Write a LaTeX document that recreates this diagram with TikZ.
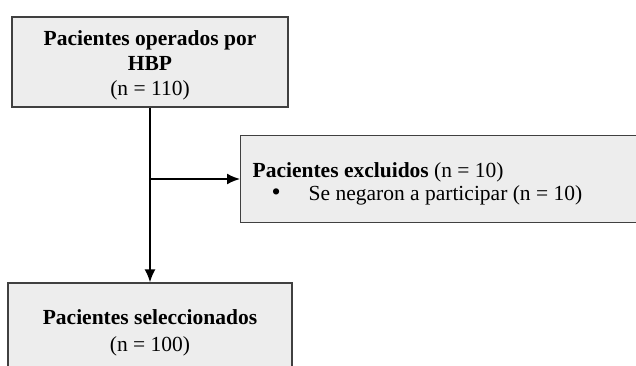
\documentclass[tikz,border=0pt]{standalone}
\usepackage{fontspec}
\setmainfont{Liberation Serif}
\usetikzlibrary{arrows.meta}
\begin{document}
\begin{tikzpicture}[x=1pt,y=1pt]
\definecolor{fillColor}{RGB}{237,237,237}
\definecolor{drawColor}{RGB}{64,64,64}
\tikzset{
  box/.style={draw=drawColor,line width=1.3pt,fill=fillColor,inner sep=0pt,
    font=\fontsize{21.5}{25}\selectfont},
  flow/.style={draw=black,line width=1.8pt,-{Latex[length=13pt,width=11pt]}}
}
\path[use as bounding box,fill=white] (0,0) rectangle (636,365);
\clip (0,0) rectangle (636,365);

\node[box,minimum width=276,minimum height=90,align=center] (operados) at (150,303)
  {\rule{0pt}{21pt}\textbf{Pacientes operados por}\\\textbf{HBP}\\(n = 110)};

\node[box,anchor=west,minimum height=87,text width=386,inner xsep=12pt,align=flush left,
  font=\fontsize{21.5}{23.5}\selectfont] (excluidos) at (240,186)
  {\rule{0pt}{25pt}\textbf{Pacientes excluidos} (n = 10)\\
   \hspace*{19pt}\makebox[37pt][l]{\fontsize{26}{20}\selectfont\textbullet}Se negaron a participar (n = 10)};

\node[box,minimum width=284,minimum height=90,align=center,
  font=\fontsize{21.5}{27}\selectfont] (seleccionados) at (150,37)
  {\rule{0pt}{25pt}\textbf{Pacientes seleccionados}\\(n = 100)};

\coordinate (split) at (operados.south |- excluidos.west);
\draw[flow] (operados.south) -- (seleccionados.north);
\draw[flow] (split) -- (excluidos.west);
\end{tikzpicture}
\end{document}
